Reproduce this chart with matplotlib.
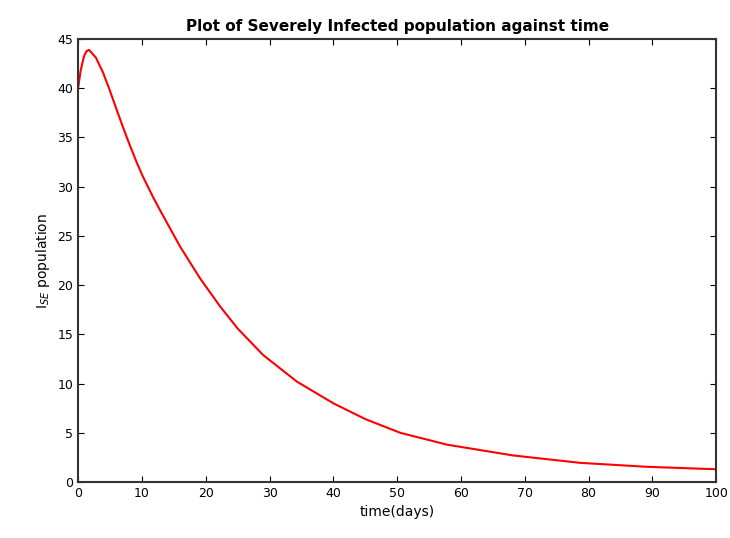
import matplotlib
matplotlib.use('Agg')
import matplotlib.pyplot as plt

# values
t = [0, 0.4, 0.9, 1.3, 1.7, 2.8, 3.9, 4.9, 6.0, 7.0, 8.05, 9.1, 10.1, 11.7,
     12.85, 16.0, 19.1, 22.3, 25.0, 29.0, 34.3, 40.0, 45.0, 50.5, 57.8, 68.2,
     78.7, 89.1, 100]
i_se = [40.0, 41.8, 43.2, 43.75, 43.9, 43.1, 41.6, 39.9, 37.9, 36.1, 34.3, 32.6,
        31.1, 29.0, 27.6, 23.9, 20.7, 17.8, 15.6, 12.9, 10.2, 8.0, 6.4, 5.0,
        3.8, 2.7, 1.95, 1.55, 1.3]

fig = plt.figure(figsize=(7.3, 5.38), dpi=100)
ax = fig.add_axes([0.107, 0.104, 0.874, 0.8235])
ax.plot(t, i_se, color='red', linewidth=1.5)

ax.set_xlim(0, 100)
ax.set_ylim(0, 45)
ax.set_xticks(range(0, 101, 10))
ax.set_yticks(range(0, 46, 5))
ax.tick_params(direction='in', top=True, right=True, labelsize=9, length=4)
for s in ax.spines.values():
    s.set_linewidth(1.5)
    s.set_color('#333333')

ax.set_title('Plot of Severely Infected population against time', fontsize=11, fontweight='bold')
ax.set_xlabel('time(days)', fontsize=10)
ax.set_ylabel(r'I$_{SE}$ population', fontsize=10)

plt.savefig('out.png')
